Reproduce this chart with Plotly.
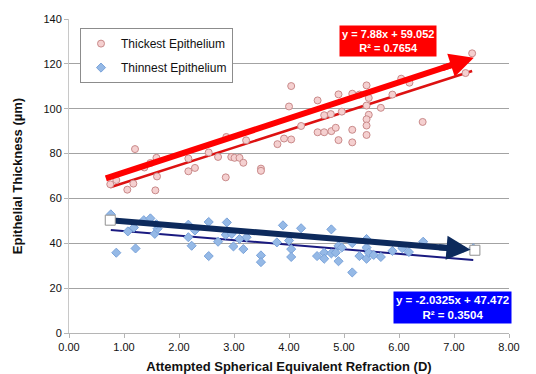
import plotly.graph_objects as go

# ---------------- data ----------------
thick_x = [0.75, 0.86, 1.06, 1.17, 1.20, 1.37, 1.48, 1.57, 1.59, 1.60,
           2.17, 2.17, 2.29, 2.54, 2.71, 2.85, 2.86, 2.95, 3.01, 3.10,
           3.17, 3.22, 3.49, 3.49, 3.79, 3.91, 4.04, 4.04, 4.00, 4.22,
           4.52, 4.52, 4.64, 4.64, 4.76, 4.77, 4.85, 4.90, 4.96, 4.90,
           5.15, 5.15, 5.15, 5.28, 5.41, 5.41, 5.45, 5.45, 5.41, 5.41,
           5.41, 5.67, 5.88, 6.04, 6.19, 6.43, 7.21, 7.33]
thick_y = [66.3, 68.2, 63.9, 66.6, 82.0, 73.8, 75.8, 63.6, 78.1, 69.8,
           77.8, 72.1, 73.6, 80.5, 78.5, 69.4, 87.4, 78.5, 78.1, 78.1,
           75.9, 85.9, 73.3, 72.3, 84.2, 86.7, 86.3, 110.1, 101.0, 92.3,
           103.7, 89.5, 89.5, 97.1, 97.6, 90.0, 91.5, 106.4, 98.7, 86.0,
           106.7, 90.6, 85.0, 106.3, 110.4, 101.4, 104.8, 97.3, 95.3, 92.5,
           88.3, 100.4, 106.3, 113.4, 111.6, 94.1, 115.9, 124.7]

thin_x = [0.76, 0.86, 1.07, 1.18, 1.21, 1.36, 1.48, 1.56, 1.61, 1.59,
          2.17, 2.17, 2.23, 2.29, 2.54, 2.54, 2.71, 2.87, 2.85, 2.96,
          2.99, 3.10, 3.17, 3.23, 3.49, 3.49, 3.78, 3.89, 4.00, 4.04,
          4.04, 4.22, 4.51, 4.64, 4.64, 4.77, 4.77, 4.85, 4.90, 4.90,
          4.96, 5.15, 5.15, 5.28, 5.41, 5.41, 5.41, 5.45, 5.54, 5.67,
          5.88, 6.06, 6.18, 6.44, 7.35]
thin_y = [52.9, 35.8, 45.3, 47.0, 37.7, 50.3, 51.1, 44.2, 46.5, 48.5,
          48.3, 42.7, 38.9, 45.7, 49.5, 34.3, 40.7, 49.3, 43.8, 44.2,
          38.6, 41.9, 37.4, 42.7, 34.6, 31.6, 40.4, 48.0, 41.2, 37.4,
          33.9, 46.7, 34.3, 35.8, 33.1, 46.2, 35.5, 35.8, 32.0, 38.9,
          38.1, 27.0, 40.1, 34.3, 41.9, 38.1, 33.1, 35.8, 34.8, 33.9,
          36.6, 37.8, 36.1, 40.7, 37.8]

# trend line equations (as printed on the chart)
thick_slope, thick_icpt, thick_r2 = 7.88, 59.052, 0.7654
thin_slope, thin_icpt, thin_r2 = -2.0325, 47.472, 0.3504

# hand-drawn arrows: (x0, y0) -> (x1, y1) in data units
red_arrow = [0.67, 68.9, 7.36, 122.7]
blue_arrow = [0.75, 50.3, 7.30, 37.1]

x_ticks = [0, 1, 2, 3, 4, 5, 6, 7, 8]
y_ticks = [0, 20, 40, 60, 80, 100, 120, 140]

FONT = "Liberation Sans, Arial, sans-serif"

fig = go.Figure()

# Excel trendlines
def trend(xs, m, b):
    lo, hi = min(xs), max(xs)
    return [lo, hi], [m * lo + b, m * hi + b]

tx, ty = trend(thick_x, thick_slope, thick_icpt)
fig.add_trace(go.Scatter(x=tx, y=ty, mode="lines", line=dict(color="#dd1111", width=2.5),
                         showlegend=False, hoverinfo="skip"))
nx, ny = trend(thin_x, thin_slope, thin_icpt)
fig.add_trace(go.Scatter(x=nx, y=ny, mode="lines", line=dict(color="#1a1a80", width=2),
                         showlegend=False, hoverinfo="skip"))

# scatter series
fig.add_trace(go.Scatter(
    x=thick_x, y=thick_y, mode="markers", name="Thickest Epithelium", legendgroup="a",
    marker=dict(symbol="circle", size=7, color="#f5d0d0",
                line=dict(color="#c98a8a", width=1))))
fig.add_trace(go.Scatter(
    x=thin_x, y=thin_y, mode="markers", name="Thinnest Epithelium", legendgroup="b",
    marker=dict(symbol="diamond", size=7, color="#95b9e6",
                line=dict(color="#7aa3da", width=1))))

# thick arrow shafts
def shaft(a, color):
    k = (a[3] - a[1]) / (a[2] - a[0])
    return go.Scatter(x=[a[0], a[2] - 0.2], y=[a[1], a[3] - 0.2 * k],
                      mode="lines", line=dict(color=color, width=6),
                      showlegend=False, hoverinfo="skip")

fig.add_trace(shaft(red_arrow, "#ff0000"))
fig.add_trace(shaft(blue_arrow, "#0d2a5c"))
# white squares at blue arrow ends
fig.add_trace(go.Scatter(x=[blue_arrow[0], blue_arrow[2] + 0.08], y=[blue_arrow[1], blue_arrow[3] - 0.2],
                         mode="markers",
                         marker=dict(symbol="square", size=10, color="white",
                                     line=dict(color="#909090", width=1)),
                         showlegend=False, hoverinfo="skip"))

def head(a, color):
    dx = 0.6
    return dict(x=a[2], y=a[3], ax=a[2] - dx, ay=a[3] - dx * (a[3] - a[1]) / (a[2] - a[0]),
                xref="x", yref="y", axref="x", ayref="y", text="", showarrow=True,
                arrowhead=2, arrowsize=0.8, arrowwidth=6, arrowcolor=color)

annotations = [
    head(red_arrow, "#ff0000"),
    head(blue_arrow, "#0d2a5c"),
    dict(x=5.80, y=130.4, xref="x", yref="y", showarrow=False,
         text=f"<b>y = {thick_slope}x + {thick_icpt}<br>R² = {thick_r2}</b>",
         font=dict(family=FONT, size=11, color="white"), bgcolor="#ff0000",
         borderpad=2, align="center"),
    dict(x=6.98, y=11.2, xref="x", yref="y", showarrow=False,
         text=f"<b>y = {thin_slope}x + {thin_icpt}<br>R² = {thin_r2}</b>",
         font=dict(family=FONT, size=11.5, color="white"), bgcolor="#0000ff",
         borderpad=2, align="center"),
]

# page body adds an 8px offset; figure is sized so the plot area sits at 69..501 x 19..325
fig.update_layout(
    width=528, height=366,
    margin=dict(l=61, r=27, t=11, b=41),
    paper_bgcolor="white", plot_bgcolor="white",
    font=dict(family=FONT, size=11, color="#111111"),
    annotations=annotations,
    legend=dict(x=0.025, y=0.971, xanchor="left", yanchor="top",
                bgcolor="white", bordercolor="#8c8c8c", borderwidth=1,
                font=dict(family=FONT, size=12, color="#111111"),
                traceorder="grouped", tracegroupgap=5, itemwidth=30),
    xaxis=dict(range=[0, 8], tickvals=x_ticks, tickformat=".2f", automargin=False,
               showgrid=False, zeroline=False, showline=True,
               linecolor="#b5b5b5", linewidth=1, ticks="outside", ticklen=4,
               tickcolor="#b5b5b5",
               title=dict(text="<b>Attempted Spherical Equivalent Refraction (D)</b>",
                          font=dict(family=FONT, size=13, color="#111111"), standoff=16)),
    yaxis=dict(range=[0, 140], tickvals=y_ticks, automargin=False,
               showgrid=True, gridcolor="#a3a3a3", gridwidth=1, zeroline=False,
               showline=True, linecolor="#c8c8c8", linewidth=1,
               ticks="outside", ticklen=4, tickcolor="#b5b5b5",
               title=dict(text="<b>Epithelial Thickness (µm)</b>",
                          font=dict(family=FONT, size=13, color="#111111"), standoff=17)),
)

fig.write_html("out.html")
